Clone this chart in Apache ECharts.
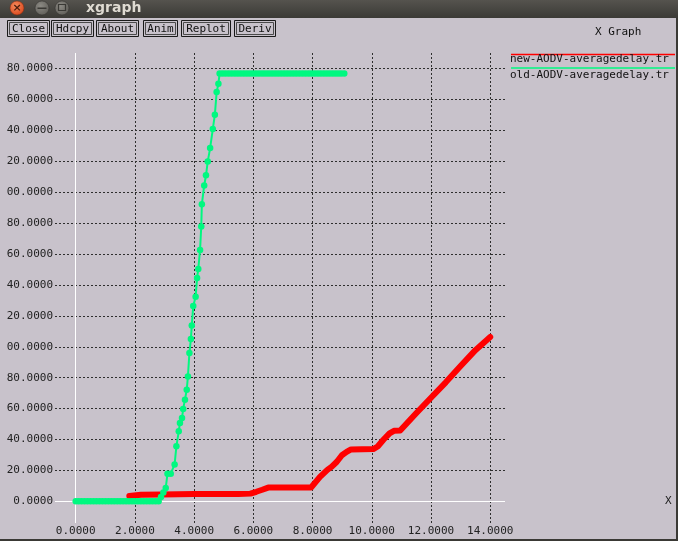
<!DOCTYPE html>
<html><head><meta charset="utf-8">
<script src="https://cdn.jsdelivr.net/npm/echarts@6/dist/echarts.min.js"></script>
<style>html,body{margin:0;padding:0;background:#c8c2cb;overflow:hidden}#c{width:678px;height:541px}</style>
</head><body><div id="c"></div><script>
// ---- data ----
const seriesNames = ['new-AODV-averagedelay.tr', 'old-AODV-averagedelay.tr'];
const xTicks = [0, 2, 4, 6, 8, 10, 12, 14];
const yTicks = [0, 20, 40, 60, 80, 100, 120, 140, 160, 180, 200, 220, 240, 260, 280];
const buttonLabels = ['Close', 'Hdcpy', 'About', 'Anim', 'Replot', 'Deriv'];
const windowTitle = 'xgraph';
const graphTitle = 'X Graph';
const xAxisName = 'X';

// new-AODV (red)
const newX = [1.81, 2.2, 2.9, 4.0, 5.5, 5.9, 6.1, 6.3, 6.5, 7.95, 8.25, 8.5, 8.65, 8.82, 8.99, 9.15, 9.3, 10.05, 10.2, 10.4, 10.6, 10.75, 10.96, 11.5, 12.0, 12.5, 13.0, 13.5, 14.0];
const newY = [3.5, 4.2, 4.5, 4.7, 4.8, 5.0, 6.2, 7.5, 8.9, 9.0, 15.8, 20.4, 22.5, 25.6, 29.8, 32.0, 33.6, 33.8, 35.5, 40.0, 44.0, 45.6, 45.8, 57.0, 67.0, 77.0, 87.6, 97.8, 106.3];

// old-AODV (green)
const oldX = [0, 0.1, 0.2, 0.3, 0.4, 0.5, 0.6, 0.7, 0.8, 0.9, 1.0, 1.1, 1.2, 1.3, 1.4, 1.5, 1.6, 1.7, 1.8, 1.9, 2.0, 2.1, 2.2, 2.3, 2.4, 2.5, 2.6, 2.7, 2.8,
  2.88, 2.96, 3.04, 3.1, 3.21, 3.34, 3.40, 3.48, 3.52, 3.59, 3.63, 3.69, 3.75, 3.79, 3.84, 3.89, 3.92, 3.97, 4.05, 4.10, 4.14, 4.20, 4.24, 4.26, 4.34, 4.40, 4.46, 4.54, 4.63, 4.70, 4.76, 4.82,
  4.86, 4.96, 5.06, 5.16, 5.26, 5.36, 5.46, 5.56, 5.66, 5.76, 5.86, 5.96, 6.06, 6.16, 6.26, 6.36, 6.46, 6.56, 6.66, 6.76, 6.86, 6.96, 7.06, 7.16, 7.26, 7.36, 7.46, 7.56, 7.66, 7.76, 7.86, 7.96, 8.06, 8.16, 8.26, 8.36, 8.46, 8.56, 8.66, 8.76, 8.86, 8.96, 9.07];
const oldY = [0, 0, 0, 0, 0, 0, 0, 0, 0, 0, 0, 0, 0, 0, 0, 0, 0, 0, 0, 0, 0, 0, 0, 0, 0, 0, 0, 0, 0,
  2.8, 5.8, 8.7, 17.9, 17.9, 23.9, 35.6, 45.3, 50.7, 53.9, 59.8, 65.8, 72.2, 80.8, 96.0, 105.0, 113.8, 126.4, 132.4, 144.5, 150.3, 162.6, 177.8, 192.1, 204.3, 210.9, 219.9, 228.5, 240.8, 250.1, 264.7, 270.1,
  276.8, 276.8, 276.8, 276.8, 276.8, 276.8, 276.8, 276.8, 276.8, 276.8, 276.8, 276.8, 276.8, 276.8, 276.8, 276.8, 276.8, 276.8, 276.8, 276.8, 276.8, 276.8, 276.8, 276.8, 276.8, 276.8, 276.8, 276.8, 276.8, 276.8, 276.8, 276.8, 276.8, 276.8, 276.8, 276.8, 276.8, 276.8, 276.8, 276.8, 276.8, 276.8, 276.8];

// ---- styles / layout ----
const MONO = '"DejaVu Sans Mono", "Liberation Mono", monospace';
const BG = '#c8c2cb';
const colors = ['#ff0000', '#00f880'];
const btnLayout = [[7, 42], [51, 42], [96, 42], [143, 34], [181, 49], [234, 41]];
const legendLayout = [{ line: 54.5, text: 59.5 }, { line: 68, text: 75.5 }];

function fmtY(v) { const s = v.toFixed(4); return s.length > 7 ? s.slice(-7) : s; }

const graphic = [];
// window title bar
graphic.push({ type: 'rect', shape: { x: 0, y: 0, width: 678, height: 18 }, style: { fill: new echarts.graphic.LinearGradient(0, 0, 0, 1, [{ offset: 0, color: '#55534e' }, { offset: 1, color: '#3b3a36' }]) }, z: 100, silent: true });
graphic.push({ type: 'circle', shape: { cx: 17, cy: 8, r: 7 }, style: { fill: new echarts.graphic.RadialGradient(0.4, 0.35, 0.7, [{ offset: 0, color: '#f58b5c' }, { offset: 1, color: '#d9461c' }]), stroke: '#7a2a10', lineWidth: 0.5 }, z: 101, silent: true });
graphic.push({ type: 'text', x: 17, y: 8, style: { text: '×', fill: '#4a1c0c', font: 'bold 11px "DejaVu Sans"', align: 'center', verticalAlign: 'middle' }, z: 102, silent: true });
[42, 62].forEach(cx => {
  graphic.push({ type: 'circle', shape: { cx: cx, cy: 8, r: 7 }, style: { fill: new echarts.graphic.RadialGradient(0.4, 0.35, 0.7, [{ offset: 0, color: '#8c8a84' }, { offset: 1, color: '#5f5d58' }]), stroke: '#2e2d2a', lineWidth: 0.5 }, z: 101, silent: true });
});
graphic.push({ type: 'rect', shape: { x: 37.5, y: 7.5, width: 9, height: 1.5 }, style: { fill: '#3a3935' }, z: 102, silent: true });
graphic.push({ type: 'rect', shape: { x: 58.5, y: 4.5, width: 7, height: 6 }, style: { fill: 'none', stroke: '#3a3935', lineWidth: 1.2 }, z: 102, silent: true });
graphic.push({ type: 'text', x: 86, y: 8, style: { text: windowTitle, fill: '#dfdbd2', font: 'bold 14px "DejaVu Sans"', verticalAlign: 'middle' }, z: 101, silent: true });
// buttons
buttonLabels.forEach((lab, i) => {
  const [bx, bw] = btnLayout[i];
  graphic.push({ type: 'rect', shape: { x: bx + 0.5, y: 20.5, width: bw, height: 16 }, style: { fill: 'none', stroke: '#1a1a1a', lineWidth: 1 }, z: 100, silent: true });
  graphic.push({ type: 'rect', shape: { x: bx + 2.5, y: 22.5, width: bw - 4, height: 12 }, style: { fill: 'none', stroke: '#4a4a4a', lineWidth: 1 }, z: 100, silent: true });
  graphic.push({ type: 'text', x: bx + bw / 2 + 0.5, y: 29, style: { text: lab, fill: '#111', font: '11px ' + MONO, align: 'center', verticalAlign: 'middle' }, z: 101, silent: true });
});
// graph title
graphic.push({ type: 'text', x: 595, y: 32, style: { text: graphTitle, fill: '#111', font: '11px ' + MONO, verticalAlign: 'middle' }, z: 100, silent: true });
// legend
seriesNames.forEach((nm, i) => {
  graphic.push({ type: 'line', shape: { x1: 511, y1: legendLayout[i].line, x2: 675, y2: legendLayout[i].line }, style: { stroke: colors[i], lineWidth: 1.5 }, z: 100, silent: true });
  graphic.push({ type: 'text', x: 510, y: legendLayout[i].text, style: { text: nm, fill: '#111', font: '11px ' + MONO, verticalAlign: 'middle' }, z: 101, silent: true });
});
// window border right/bottom
graphic.push({ type: 'rect', shape: { x: 676, y: 18, width: 2, height: 523 }, style: { fill: '#3a3935' }, z: 100, silent: true });
graphic.push({ type: 'rect', shape: { x: 0, y: 539, width: 678, height: 2 }, style: { fill: '#3a3935' }, z: 100, silent: true });

const chart = echarts.init(document.getElementById('c'), null, { renderer: 'canvas' });
const gridLine = { show: true, lineStyle: { color: '#2e2e2e', type: [2, 2], width: 1 } };
const labelStyle = { fontFamily: MONO, fontSize: 11, color: '#222' };
chart.setOption({
  backgroundColor: BG,
  animation: false,
  graphic: graphic,
  grid: { left: 55, right: 173, top: 53, bottom: 18, containLabel: false },
  xAxis: {
    type: 'value', min: -0.7, max: 14.5,
    name: xAxisName, nameLocation: 'end', nameGap: 160,
    nameTextStyle: { fontFamily: MONO, fontSize: 11, color: '#222', verticalAlign: 'middle' },
    axisLine: { show: false },
    axisTick: { show: false, customValues: xTicks },
    axisLabel: Object.assign({ customValues: xTicks, formatter: v => Number(v).toFixed(4), margin: 3, showMinLabel: true, showMaxLabel: true, hideOverlap: false }, labelStyle),
    splitLine: gridLine
  },
  yAxis: {
    type: 'value', min: -14, max: 290,
    axisLine: { show: false },
    axisTick: { show: false, customValues: yTicks },
    axisLabel: Object.assign({ customValues: yTicks, formatter: v => fmtY(Number(v)), margin: 2, hideOverlap: false }, labelStyle),
    splitLine: gridLine
  },
  series: [
    {
      name: seriesNames[0], type: 'line', z: 2,
      data: newX.map((x, i) => [x, newY[i]]),
      symbol: 'none', showSymbol: false,
      lineStyle: { color: colors[0], width: 6, cap: 'round', join: 'round' },
      itemStyle: { color: colors[0] },
      markLine: {
        silent: true, z: 1, symbol: ['none', 'none'], animation: false,
        label: { show: false },
        lineStyle: { color: '#ffffff', type: 'solid', width: 1 },
        data: [{ xAxis: 0 }, { yAxis: 0 }]
      }
    },
    {
      name: seriesNames[1], type: 'line', z: 4,
      data: oldX.map((x, i) => [x, oldY[i]]),
      symbol: 'circle', symbolSize: 6.5, showSymbol: true, showAllSymbol: true,
      lineStyle: { color: colors[1], width: 2 },
      itemStyle: { color: colors[1] }
    }
  ]
});
</script></body></html>
